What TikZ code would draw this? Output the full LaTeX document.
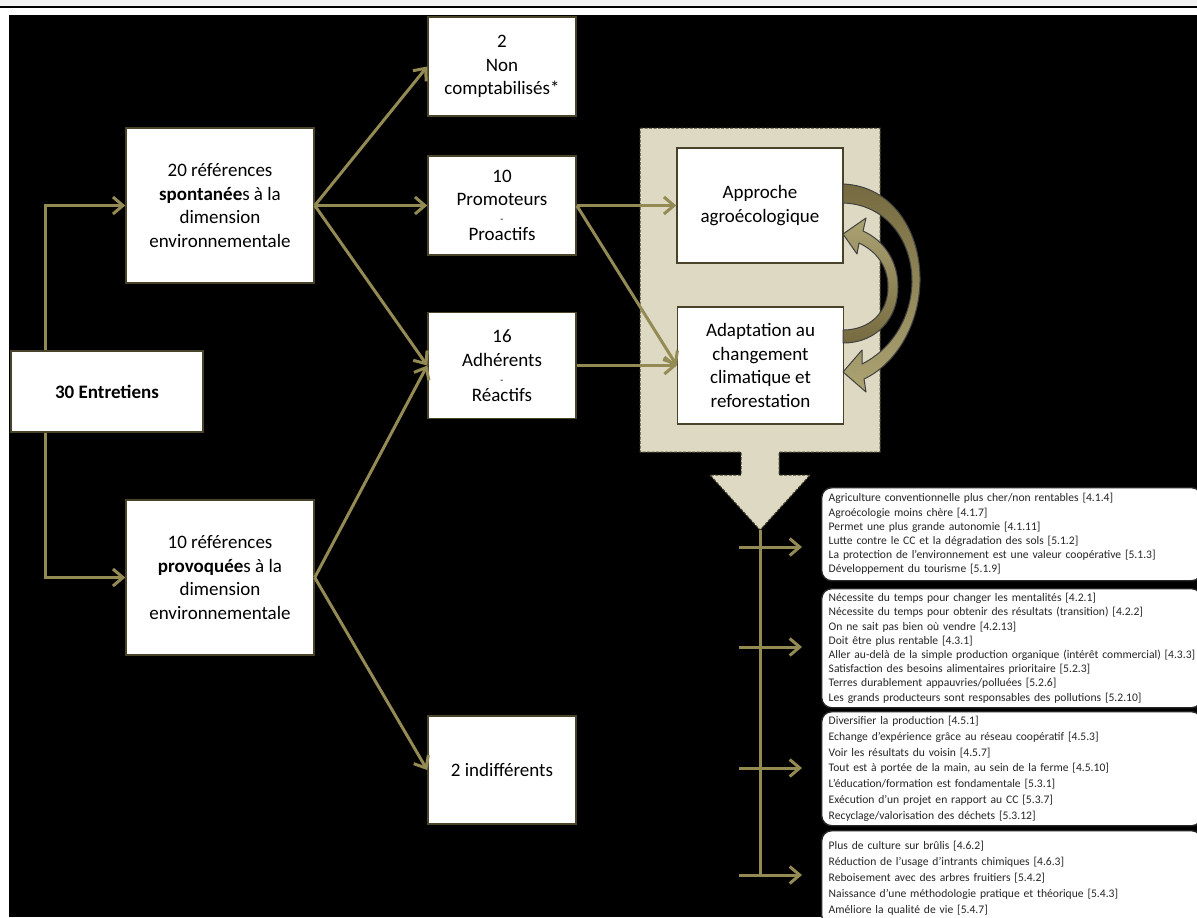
\documentclass[tikz,border=0pt]{standalone}
\usepackage{fontspec}
\setmainfont{Carlito}
\newfontfamily\listfont{Carlito}[WordSpace=0.5]
\usepackage{tikz}
\usetikzlibrary{arrows.meta, positioning}
\definecolor{olive}{HTML}{948A54}
\definecolor{darkolive}{HTML}{494429}
\definecolor{tan}{HTML}{DDD9C3}
\definecolor{arcdark}{HTML}{766B40}
\definecolor{arclight}{HTML}{ACA373}
\tikzstyle{block} = [rectangle, draw=darkolive, line width=0.75pt, fill=white,
  align=center, inner sep=0pt, font=\fontsize{9.5}{11.75}\selectfont]
\tikzstyle{arrow} = [olive, line width=1.5pt, -{Straight Barb[length=5pt, width=8.5pt]}]
\tikzstyle{listbox} = [rectangle, draw=black!85, line width=0.7pt, fill=white,
  rounded corners=5pt, anchor=north west, text width=183pt, inner xsep=3.5pt,
  inner ysep=0pt, align=left, text=black!85]
\tikzstyle{bent} = [draw=black!75, line width=0.5pt, line join=round]
\newcommand{\tiret}{\\[-3.25pt]{\fontsize{5}{5}\selectfont -}\\[-2.75pt]}

\begin{document}
\begin{tikzpicture}[x=0.5pt, y=-0.5pt]
    % page and background
    \useasboundingbox (0,0) rectangle (1197,917);
    \clip (0,0) rectangle (1197,917);
    \fill[white] (0,0) rectangle (1197,917);
    \fill[black!5] (0,0) rectangle (1197,6);
    \fill[black] (0,6) rectangle (1197,8);
    \fill[black] (9,15) rectangle (1197,917);

    % tan panel with its down arrow
    \filldraw[fill=tan, draw=darkolive, line width=0.5pt, dash pattern=on 1.5pt off 0.75pt]
      (640,128) -- (880,128) -- (880,452) -- (779,452) -- (779,475) -- (810,475)
      -- (760,530) -- (710,475) -- (741,475) -- (741,452) -- (640,452) -- cycle;
    \coordinate (apex) at (760,530);

    \node[block, minimum width=96pt, minimum height=40.5pt, font=\fontsize{9.5}{11.75}\selectfont\bfseries] (n30) at (107,391.5) {30 Entretiens};
    \node[block, minimum width=94pt, minimum height=77.5pt] (n20) at (220,205.5) {20 références\\\textbf{spontanée}s à la\\dimension\\environnementale};
    \node[block, minimum width=94pt, minimum height=77.5pt] (n10p) at (220,577.5) {10 références\\\textbf{provoquée}s à la\\dimension\\environnementale};
    \node[block, minimum width=74pt, minimum height=49.5pt] (n2) at (502,66.5) {2\\Non\\comptabilisés*};
    \node[block, minimum width=74pt, minimum height=49.5pt] (n10) at (502,205.5) {10\\Promoteurs\tiret Proactifs};
    \node[block, minimum width=74pt, minimum height=53pt] (n16) at (502,365.5) {16\\Adhérents\tiret Réactifs};
    \node[block, minimum width=74pt, minimum height=54pt] (n2i) at (502,770) {2 indifférents};
    \node[block, minimum width=83pt, minimum height=57.5pt] (agro) at (760,205.5) {Approche\\agroécologique};
    \node[block, minimum width=83pt, minimum height=58.5pt] (adapt) at (760.5,365.5) {Adaptation au\\changement\\climatique et\\reforestation};

    % curved arrows between the two approaches
    \draw[bent, top color=arcdark, bottom color=arclight] (843,184) .. controls (893,186) and (921,232) .. (920,282)
      .. controls (919,325) and (896,364) .. (864,379) -- (866,392) -- (843,372) -- (862,350)
      -- (862,364) .. controls (890,350) and (911,320) .. (912,282)
      .. controls (912,238) and (884,204) .. (843,203) -- cycle;
    \draw[bent, top color=arclight, bottom color=arcdark] (843,343) .. controls (877,343) and (898,318) .. (898,287)
      .. controls (898,262) and (885,241) .. (863,231) -- (866,218) -- (843,234) -- (857,254)
      -- (859,243) .. controls (876,251) and (888,266) .. (888,287)
      .. controls (888,313) and (869,330) .. (843,330) -- cycle;

    % lists
    \node[listbox, minimum height=46.5pt, font=\listfont\fontsize{5.8}{7.1}\selectfont] (l1) at (821,487) {Agriculture conventionnelle plus cher/non rentables [4.1.4]\\Agroécologie moins chère [4.1.7]\\Permet une plus grande autonomie [4.1.11]\\Lutte contre le CC et la dégradation des sols [5.1.2]\\La protection de l’environnement est une valeur coopérative [5.1.3]\\Développement du tourisme [5.1.9]};
    \node[listbox, minimum height=59.5pt, font=\listfont\fontsize{5.8}{7.1}\selectfont] (l2) at (821,588) {Nécessite du temps pour changer les mentalités [4.2.1]\\Nécessite du temps pour obtenir des résultats (transition) [4.2.2]\\On ne sait pas bien où vendre [4.2.13]\\Doit être plus rentable [4.3.1]\\\mbox{Aller au-delà de la simple production organique (intérêt commercial) [4.3.3]}\\Satisfaction des besoins alimentaires prioritaire [5.2.3]\\Terres durablement appauvries/polluées [5.2.6]\\Les grands producteurs sont responsables des pollutions [5.2.10]};
    \node[listbox, minimum height=57pt, font=\listfont\fontsize{5.8}{7.9}\selectfont] (l3) at (821,711) {Diversifier la production [4.5.1]\\Echange d’expérience grâce au réseau coopératif [4.5.3]\\Voir les résultats du voisin [4.5.7]\\Tout est à portée de la main, au sein de la ferme [4.5.10]\\L’éducation/formation est fondamentale [5.3.1]\\Exécution d’un projet en rapport au CC [5.3.7]\\Recyclage/valorisation des déchets [5.3.12]};
    \node[listbox, minimum height=47.5pt, font=\listfont\fontsize{5.8}{7.9}\selectfont] (l4) at (821,830) {Plus de culture sur brûlis [4.6.2]\\Réduction de l’usage d’intrants chimiques [4.6.3]\\Reboisement avec des arbres fruitiers [5.4.2]\\Naissance d’une méthodologie pratique et théorique [5.4.3]\\Améliore la qualité de vie [5.4.7]};

    % connectors
    \draw[arrow] ([xshift=17.5pt]n30.north west) |- (n20.west);
    \draw[arrow] ([xshift=17.5pt]n30.south west) |- (n10p.west);
    \draw[arrow] (n20.east) -- (n2.west);
    \draw[arrow] (n20.east) -- (n10.west);
    \draw[arrow] (n20.east) -- (n16.west);
    \draw[arrow] (n10p.east) -- (n16.west);
    \draw[arrow] (n10p.east) -- (n2i.west);
    \draw[arrow] (n10.east) -- (agro.west);
    \draw[arrow] (n10.east) -- (adapt.west);
    \draw[arrow] (n16.east) -- (adapt.west);

    \coordinate (s1) at (739,547);
    \coordinate (s2) at (739,647);
    \coordinate (s3) at (739,768);
    \coordinate (s4) at (739,875);
    \draw[olive, line width=1.5pt] (apex) -- (apex |- s4);
    \foreach \i in {1,2,3,4}
      \draw[arrow, shorten >=9.5pt] (s\i) -- (s\i -| l\i.west);
  \end{tikzpicture}
\end{document}
